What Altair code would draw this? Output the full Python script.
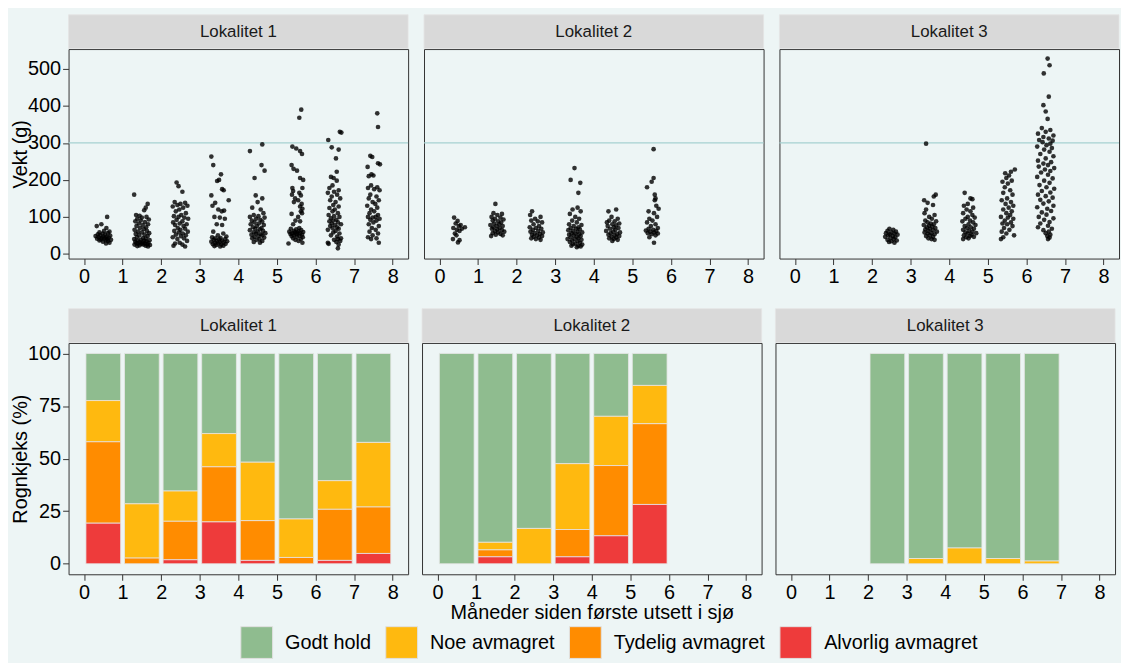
import altair as alt
import pandas as pd

# ---------------- data ----------------
lokaliteter = ["Lokalitet 1", "Lokalitet 2", "Lokalitet 3"]
month_ticks = [0, 1, 2, 3, 4, 5, 6, 7, 8]
weight_ticks = [0, 100, 200, 300, 400, 500]
pct_ticks = [0, 25, 50, 75, 100]
ref_line = [300]

hold_cats = ["Godt hold", "Noe avmagret", "Tydelig avmagret", "Alvorlig avmagret"]
hold_colors = ["#8FBC8F", "#FFB90F", "#FF8C00", "#EE3B3B"]
stack_order = {"Alvorlig avmagret": 0, "Tydelig avmagret": 1, "Noe avmagret": 2, "Godt hold": 3}

# condition shares (%) per month since first release
l1_months = [0, 1, 2, 3, 4, 5, 6, 7]
l1_godt = [22.4, 71.5, 65.4, 38.1, 51.7, 78.7, 60.5, 42.3]
l1_noe = [19.6, 25.8, 14.4, 15.8, 27.8, 18.3, 13.6, 30.7]
l1_tyd = [38.7, 2.7, 18.3, 26.2, 18.9, 3.0, 24.3, 22.1]
l1_alv = [19.3, 0.0, 1.9, 19.9, 1.6, 0.0, 1.6, 4.9]

l2_months = [0, 1, 2, 3, 4, 5]
l2_godt = [100.0, 89.8, 83.2, 52.4, 29.9, 15.2]
l2_noe = [0.0, 3.6, 16.8, 31.3, 23.4, 18.2]
l2_tyd = [0.0, 3.3, 0.0, 13.0, 33.4, 38.4]
l2_alv = [0.0, 3.3, 0.0, 3.3, 13.3, 28.2]

l3_months = [2, 3, 4, 5, 6]
l3_godt = [100.0, 97.5, 92.5, 97.5, 98.7]
l3_noe = [0.0, 2.5, 7.5, 2.5, 1.3]
l3_tyd = [0.0, 0.0, 0.0, 0.0, 0.0]
l3_alv = [0.0, 0.0, 0.0, 0.0, 0.0]

# individual weights (g), (months since release, weight)
w1 = [
    (0.60,100),(0.45,80),(0.33,75),(0.58,70),(0.52,62),(0.66,60),(0.40,58),(0.62,56),(0.48,55),(0.36,53),
    (0.55,52),(0.42,50),(0.68,49),(0.30,48),(0.50,47),(0.58,46),(0.38,45),(0.64,44),(0.46,43),(0.53,42),
    (0.34,41),(0.60,40),(0.44,39),(0.70,38),(0.56,37),(0.40,36),(0.62,35),(0.49,33),(0.66,30),(0.57,28),
    (1.30,160),(1.65,135),(1.60,125),(1.56,118),(1.35,105),(1.44,103),(1.62,100),(1.50,98),(1.38,95),(1.68,93),
    (1.47,90),(1.33,88),(1.58,86),(1.42,82),(1.66,80),(1.52,78),(1.36,75),(1.61,72),(1.45,70),(1.55,67),
    (1.31,65),(1.63,62),(1.40,60),(1.50,58),(1.69,56),(1.34,54),(1.57,52),(1.43,50),(1.65,48),(1.37,45),
    (1.53,43),(1.60,41),(1.30,40),(1.47,38),(1.70,37),(1.39,36),(1.56,35),(1.62,34),(1.33,33),(1.45,32),
    (1.52,31),(1.67,30),(1.36,29),(1.58,28),(1.41,28),(1.49,27),(1.64,26),(1.31,25),(1.54,25),(1.71,24),
    (1.44,23),(1.60,22),(1.38,21),(1.66,20),
    (2.40,193),(2.45,183),(2.55,168),(2.35,140),(2.62,138),(2.50,135),(2.42,132),(2.68,130),(2.30,128),(2.57,125),
    (2.47,120),(2.38,115),(2.64,110),(2.52,105),(2.33,102),(2.45,100),(2.60,98),(2.70,95),(2.40,92),(2.55,88),
    (2.31,85),(2.48,82),(2.66,80),(2.36,78),(2.58,75),(2.43,70),(2.62,68),(2.50,65),(2.34,62),(2.69,60),
    (2.46,58),(2.56,55),(2.38,52),(2.64,50),(2.51,48),(2.30,45),(2.59,42),(2.42,40),(2.67,35),(2.48,30),
    (2.36,28),(2.55,25),(2.32,22),(2.62,20),
    (3.30,263),(3.35,240),(3.55,215),(3.50,200),(3.45,197),(3.58,175),(3.62,172),(3.30,158),(3.75,145),(3.40,138),
    (3.33,130),(3.48,120),(3.63,117),(3.57,115),(3.38,100),(3.52,98),(3.65,95),(3.44,80),(3.58,78),(3.35,60),
    (3.61,55),(3.47,50),(3.69,47),(3.32,45),(3.54,43),(3.40,42),(3.66,40),(3.50,39),(3.36,38),(3.58,36),
    (3.44,35),(3.71,34),(3.30,33),(3.52,32),(3.62,31),(3.40,30),(3.48,28),(3.67,27),(3.34,26),(3.56,25),
    (3.43,24),(3.61,22),(3.38,21),(3.53,20),
    (4.30,278),(4.62,296),(4.60,240),(4.68,225),(4.42,205),(4.45,158),(4.62,150),(4.50,140),(4.36,125),(4.58,120),
    (4.65,110),(4.40,105),(4.52,102),(4.30,100),(4.68,98),(4.46,95),(4.57,92),(4.35,90),(4.62,87),(4.42,85),
    (4.53,82),(4.32,80),(4.66,78),(4.48,75),(4.38,72),(4.60,70),(4.44,68),(4.56,66),(4.30,64),(4.64,62),
    (4.50,60),(4.40,58),(4.70,56),(4.46,55),(4.58,53),(4.34,52),(4.62,50),(4.52,48),(4.42,46),(4.67,44),
    (4.36,42),(4.55,40),(4.47,38),(4.62,35),(4.40,32),(4.56,30),
    (5.63,390),(5.58,368),(5.40,290),(5.50,285),(5.60,278),(5.65,270),(5.38,240),(5.43,230),(5.52,225),(5.60,205),
    (5.68,200),(5.40,178),(5.66,178),(5.42,170),(5.58,165),(5.39,160),(5.62,158),(5.47,150),(5.55,145),(5.44,140),
    (5.64,135),(5.60,128),(5.66,122),(5.62,115),(5.65,110),(5.38,108),(5.55,100),(5.48,90),(5.60,88),(5.42,80),
    (5.58,70),(5.36,68),(5.50,66),(5.63,64),(5.44,62),(5.56,61),(5.32,60),(5.68,59),(5.47,58),(5.53,57),
    (5.40,56),(5.60,55),(5.35,54),(5.50,53),(5.65,52),(5.44,50),(5.58,49),(5.38,48),(5.52,46),(5.67,45),
    (5.42,42),(5.62,40),(5.48,38),(5.56,35),(5.30,28),(5.66,30),
    (6.63,330),(6.67,328),(6.33,308),(6.42,288),(6.60,282),(6.53,258),(6.55,222),(6.40,208),(6.47,205),(6.55,198),
    (6.44,185),(6.36,178),(6.60,172),(6.48,168),(6.32,165),(6.56,160),(6.42,155),(6.64,150),(6.38,145),(6.52,140),
    (6.46,132),(6.60,128),(6.36,124),(6.50,120),(6.44,115),(6.58,110),(6.34,105),(6.48,102),(6.62,100),(6.40,96),
    (6.54,92),(6.46,90),(6.36,88),(6.58,85),(6.42,82),(6.66,80),(6.50,78),(6.38,75),(6.56,72),(6.44,70),
    (6.60,68),(6.32,65),(6.52,62),(6.46,58),(6.62,55),(6.40,50),(6.56,47),(6.66,42),(6.58,40),(6.48,38),
    (6.64,35),(6.54,32),(6.32,30),(6.34,27),(6.60,25),(6.58,15),
    (7.60,380),(7.62,343),(7.42,265),(7.47,262),(7.62,245),(7.67,242),(7.35,235),(7.45,215),(7.50,212),(7.38,210),
    (7.44,185),(7.60,180),(7.36,178),(7.52,175),(7.66,172),(7.42,160),(7.58,155),(7.38,150),(7.64,145),(7.48,140),
    (7.55,135),(7.34,130),(7.60,125),(7.44,120),(7.52,115),(7.40,110),(7.62,105),(7.36,100),(7.56,100),(7.48,98),
    (7.66,95),(7.42,92),(7.58,90),(7.50,85),(7.38,80),(7.64,75),(7.46,70),(7.56,65),(7.40,60),(7.62,55),
    (7.48,50),(7.36,45),(7.58,42),(7.44,40),(7.64,30),
]

w2 = [
    (0.38,98),(0.47,89),(0.42,82),(0.55,78),(0.50,75),(0.66,72),(0.36,70),(0.58,68),(0.45,65),(0.52,62),
    (0.40,55),(0.44,50),(0.35,40),(0.52,37),(0.48,31),
    (1.45,135),(1.40,110),(1.62,108),(1.50,105),(1.35,100),(1.58,98),(1.44,95),(1.66,93),(1.38,90),(1.52,88),
    (1.60,85),(1.42,82),(1.55,80),(1.32,78),(1.48,76),(1.64,75),(1.40,72),(1.56,70),(1.36,68),(1.50,66),
    (1.62,64),(1.44,62),(1.68,60),(1.52,58),(1.38,56),(1.58,54),(1.46,52),(1.64,50),(1.34,48),
    (2.40,115),(2.35,105),(2.62,100),(2.48,95),(2.38,90),(2.55,88),(2.66,85),(2.44,80),(2.58,75),(2.34,72),
    (2.50,70),(2.64,68),(2.42,65),(2.56,62),(2.36,60),(2.68,58),(2.47,56),(2.60,54),(2.40,52),(2.53,50),
    (2.66,48),(2.44,46),(2.58,44),(2.38,42),(2.50,40),(2.62,38),
    (3.50,232),(3.40,200),(3.65,192),(3.60,165),(3.58,125),(3.45,120),(3.66,115),(3.38,108),(3.52,100),(3.62,95),
    (3.44,90),(3.56,85),(3.36,80),(3.68,78),(3.48,75),(3.60,72),(3.40,70),(3.54,68),(3.64,66),(3.34,64),
    (3.46,62),(3.58,60),(3.70,58),(3.42,56),(3.52,55),(3.62,53),(3.36,52),(3.48,50),(3.66,48),(3.56,46),
    (3.40,45),(3.60,42),(3.32,40),(3.50,40),(3.68,38),(3.44,36),(3.58,34),(3.38,32),(3.64,30),(3.52,28),
    (3.46,26),(3.70,25),(3.60,22),(3.42,22),(3.66,20),(3.56,18),
    (4.58,120),(4.38,115),(4.46,100),(4.62,95),(4.40,90),(4.54,88),(4.34,85),(4.66,82),(4.48,80),(4.58,77),
    (4.36,75),(4.52,72),(4.64,70),(4.42,68),(4.56,65),(4.32,62),(4.50,60),(4.68,58),(4.44,56),(4.60,54),
    (4.38,52),(4.54,50),(4.66,48),(4.46,46),(4.58,44),(4.40,42),(4.52,40),(4.62,38),(4.48,35),
    (5.55,283),(5.55,205),(5.50,195),(5.38,180),(5.58,160),(5.60,150),(5.58,145),(5.62,130),(5.68,122),(5.42,115),
    (5.56,110),(5.64,100),(5.44,95),(5.52,90),(5.38,85),(5.60,80),(5.48,75),(5.66,70),(5.42,68),(5.54,65),
    (5.35,63),(5.62,62),(5.46,60),(5.56,58),(5.40,56),(5.66,55),(5.50,53),(5.60,50),(5.44,45),(5.56,30),
]

w3 = [
    (2.45,68),(2.55,65),(2.40,62),(2.62,60),(2.50,58),(2.36,56),(2.58,55),(2.46,53),(2.66,52),(2.42,50),
    (2.54,48),(2.34,46),(2.60,45),(2.48,43),(2.56,40),(2.40,38),(2.64,36),(2.50,34),(2.44,32),(2.58,30),
    (3.40,298),(3.65,160),(3.60,155),(3.35,145),(3.44,138),(3.58,132),(3.40,120),(3.36,110),(3.62,105),(3.48,100),
    (3.55,95),(3.38,90),(3.66,88),(3.44,85),(3.52,82),(3.60,80),(3.34,78),(3.48,76),(3.56,74),(3.42,72),
    (3.64,70),(3.50,68),(3.38,66),(3.58,64),(3.46,62),(3.68,60),(3.36,58),(3.54,56),(3.44,55),(3.62,53),
    (3.50,50),(3.40,48),(3.58,46),(3.46,42),(3.54,40),(3.62,38),
    (4.40,165),(4.55,150),(4.60,148),(4.48,135),(4.38,130),(4.62,125),(4.45,120),(4.55,115),(4.36,110),(4.60,105),
    (4.48,100),(4.66,98),(4.42,95),(4.54,90),(4.34,88),(4.62,85),(4.50,80),(4.68,78),(4.40,75),(4.56,72),
    (4.46,70),(4.64,68),(4.36,65),(4.52,62),(4.60,60),(4.42,58),(4.70,56),(4.48,55),(4.58,52),(4.38,50),
    (4.54,48),(4.64,46),(4.44,45),(4.50,42),(4.36,40),
    (5.70,228),(5.60,222),(5.45,218),(5.55,212),(5.48,205),(5.62,198),(5.38,195),(5.52,190),(5.44,180),(5.58,172),
    (5.40,165),(5.64,160),(5.50,150),(5.36,145),(5.60,140),(5.46,135),(5.66,130),(5.54,125),(5.40,120),(5.62,115),
    (5.48,110),(5.58,105),(5.34,100),(5.52,98),(5.66,95),(5.44,90),(5.60,85),(5.38,82),(5.50,80),(5.64,75),
    (5.42,70),(5.56,65),(5.36,60),(5.48,55),(5.68,50),(5.40,45),(5.34,40),
    (6.55,528),(6.60,510),(6.45,488),(6.58,425),(6.44,402),(6.50,385),(6.55,365),(6.40,340),(6.62,335),(6.50,330),
    (6.30,325),(6.70,320),(6.44,316),(6.58,312),(6.33,308),(6.68,306),(6.42,302),(6.62,298),(6.52,294),(6.28,290),
    (6.66,286),(6.46,282),(6.60,276),(6.36,270),(6.70,264),(6.50,258),(6.30,252),(6.64,248),(6.44,244),(6.56,240),
    (6.32,236),(6.72,232),(6.48,228),(6.62,224),(6.38,220),(6.56,214),(6.28,208),(6.68,204),(6.46,198),(6.60,192),
    (6.34,186),(6.52,180),(6.72,176),(6.40,170),(6.62,166),(6.30,160),(6.50,156),(6.68,152),(6.36,146),(6.58,142),
    (6.44,136),(6.70,130),(6.28,126),(6.54,122),(6.64,116),(6.40,112),(6.52,106),(6.32,100),(6.70,96),(6.46,92),
    (6.60,86),(6.36,82),(6.56,76),(6.30,72),(6.66,68),(6.44,64),(6.58,60),(6.50,56),(6.62,52),(6.54,48),
    (6.60,44),(6.56,40),
]

# ---------------- styling ----------------
BG = "#EDF5F5"
PW, TH, BH = 342, 211, 233
STRIP_H = 34
FONT = "Liberation Sans"

xscale = alt.Scale(domain=[-0.4, 8.4], nice=False, zero=False)
wscale = alt.Scale(domain=[-12.7, 553.8], nice=False, zero=False)
pscale = alt.Scale(domain=[-5, 105], nice=False, zero=False)
cscale = alt.Scale(domain=hold_cats, range=hold_colors)

legend = alt.Legend(
    title=None, orient="none", direction="horizontal", legendX=173, legendY=581,
    symbolType="square", symbolSize=1024, symbolStrokeColor="#E0E0E0", symbolStrokeWidth=1,
    labelFontSize=20, labelColor="black", labelFont=FONT, labelOffset=12, columnPadding=12,
    labelLimit=400, padding=0, symbolOpacity=1,
)


def strip_layers(lok):
    sdf = pd.DataFrame({"lab": [lok]})
    rect = alt.Chart(sdf).mark_rect(color="#D9D9D9", stroke="#E4E4E4", strokeWidth=0.8).encode(
        x=alt.value(0), x2=alt.value(PW), y=alt.value(-STRIP_H - 0.5), y2=alt.value(-0.5)
    )
    txt = alt.Chart(sdf).mark_text(font=FONT, fontSize=17, color="#1A1A1A", baseline="middle").encode(
        text="lab:N", x=alt.value(PW / 2), y=alt.value(-STRIP_H / 2 - 0.5)
    )
    return [rect, txt]


def x_axis(title=None):
    return alt.Axis(values=month_ticks, title=title, labelFlush=False, format="d")


def weight_panel(i, pts):
    df = pd.DataFrame(pts, columns=["x", "y"])
    yax = alt.Axis(values=weight_ticks, title="Vekt (g)", titleX=-38, titleBaseline="bottom",
                   titleAngle=270) if i == 0 else None
    hl = alt.Chart(pd.DataFrame({"y": ref_line})).mark_rule(color="#A6D1D1", strokeWidth=1.4).encode(
        y=alt.Y("y:Q", scale=wscale, axis=yax)
    )
    pts_ch = alt.Chart(df).mark_circle(size=22, color="black", opacity=0.8).encode(
        x=alt.X("x:Q", scale=xscale, axis=x_axis()),
        y=alt.Y("y:Q", scale=wscale, axis=yax),
    )
    return alt.layer(hl, pts_ch, *strip_layers(lokaliteter[i])).properties(width=PW, height=TH)


def bar_panel(i, months, godt, noe, tyd, alv):
    rows = []
    for cat, vals in zip(hold_cats, [godt, noe, tyd, alv]):
        for m, v in zip(months, vals):
            rows.append({"month": m, "cat": cat, "pct": v, "ord": stack_order[cat]})
    df = pd.DataFrame(rows)
    yax = alt.Axis(values=pct_ticks, title="Rognkjeks (%)", titleX=-38, titleBaseline="bottom",
                   titleAngle=270) if i == 0 else None
    xt = "Måneder siden første utsett i sjø" if i == 1 else None
    bars = (
        alt.Chart(df)
        .transform_stack(stack="pct", groupby=["month"], as_=["y0", "y1"],
                         sort=[alt.SortField("ord", order="ascending")])
        .transform_filter("datum.pct > 0")
        .transform_calculate(x0="datum.month + 0.05", x1="datum.month + 0.95")
        .mark_rect(stroke="#E6E6E6", strokeWidth=0.8)
        .encode(
            x=alt.X("x0:Q", scale=xscale, axis=x_axis(xt)),
            x2="x1:Q",
            y=alt.Y("y0:Q", scale=pscale, axis=yax),
            y2="y1:Q",
            color=alt.Color("cat:N", scale=cscale, legend=legend),
        )
    )
    return alt.layer(bars, *strip_layers(lokaliteter[i])).properties(width=PW, height=BH)


top = alt.hconcat(*[weight_panel(i, p) for i, p in enumerate([w1, w2, w3])], spacing=12).resolve_scale(
    x="independent", y="independent")
bottom = alt.hconcat(
    bar_panel(0, l1_months, l1_godt, l1_noe, l1_tyd, l1_alv),
    bar_panel(1, l2_months, l2_godt, l2_noe, l2_tyd, l2_alv),
    bar_panel(2, l3_months, l3_godt, l3_noe, l3_tyd, l3_alv),
    spacing=12,
).resolve_scale(x="independent", y="independent", color="shared")

chart = (
    alt.vconcat(top, bottom, spacing=20)
    .resolve_scale(color="shared")
    .properties(padding={"left": 2, "top": 3, "right": 0, "bottom": 0})
    .configure(background=BG, font=FONT)
    .configure_view(stroke="#333333", strokeWidth=1, fill=BG)
    .configure_axis(
        grid=False, domain=False, ticks=True, tickColor="#333333", tickSize=6, tickWidth=1,
        labelFontSize=20, labelColor="black", labelFont=FONT, labelPadding=2, labelFlush=False,
        titleFontSize=20, titleColor="black", titleFont=FONT, titleFontWeight="normal", titlePadding=1,
    )
)

chart.save("out.html", embed_options={"renderer": "svg", "actions": False})
